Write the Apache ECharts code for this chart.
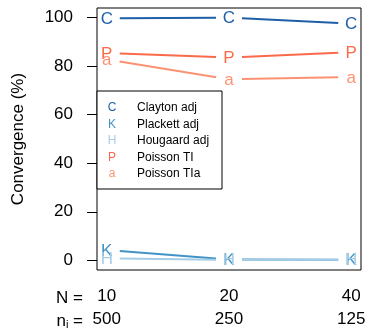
<!DOCTYPE html>
<html>
<head>
<meta charset="utf-8">
<script src="https://cdn.jsdelivr.net/npm/echarts@6/dist/echarts.min.js"></script>
<style>
  html, body { margin: 0; padding: 0; background: #fff; }
  #chart { width: 369px; height: 328px; }
</style>
</head>
<body>
<div id="chart"></div>
<script>
// x positions (equally spaced designs) and their tick labels
const xIdx = [1, 2, 3];
const nLabels = ["10", "20", "40"];
const niLabels = ["500", "250", "125"];
const yTicks = [0, 20, 40, 60, 80, 100];

// convergence (%) per method
const clayton = [99.8, 100, 97.6];
const plackett = [4.2, 0.3, 0.2];
const hougaard = [0.8, 0.2, 0.2];
const poissonTI = [85.4, 83.6, 85.8];
const poissonTIa = [82.8, 74.6, 75.6];

const FONT = "Liberation Sans, Arial, sans-serif";

const methods = [
  { name: "Clayton adj", letter: "C", color: "#1f5fa6", values: clayton },
  { name: "Plackett adj", letter: "K", color: "#4292c6", values: plackett },
  { name: "Hougaard adj", letter: "H", color: "#a6cde6", values: hougaard },
  { name: "Poisson TI", letter: "P", color: "#fb6a4a", values: poissonTI },
  { name: "Poisson TIa", letter: "a", color: "#fc9272", values: poissonTIa },
];

// R type="b": letters at points, lines with a gap around each letter
function makeRender(m) {
  return function (params, api) {
    const i = params.dataIndex;
    const p = api.coord([api.value(0), api.value(1)]);
    const children = [];
    if (i < m.values.length - 1) {
      const q = api.coord([xIdx[i + 1], m.values[i + 1]]);
      const dx = q[0] - p[0], dy = q[1] - p[1];
      const L = Math.hypot(dx, dy), g = 13;
      children.push({
        type: "line",
        shape: {
          x1: p[0] + dx / L * g, y1: p[1] + dy / L * g,
          x2: q[0] - dx / L * g, y2: q[1] - dy / L * g,
        },
        style: { stroke: m.color, lineWidth: 2 },
      });
    }
    children.push({
      type: "text",
      style: {
        text: m.letter, x: p[0], y: p[1] + 1,
        fill: m.color, font: "17px " + FONT,
        align: "center", verticalAlign: "middle",
      },
    });
    return { type: "group", children };
  };
}

const chart = echarts.init(document.getElementById("chart"));

// legend box drawn by hand to mimic R's legend()
const legendItems = [];
const legX = 97, legY = 91, rowH = 16.4;
legendItems.push({
  type: "rect",
  shape: { x: legX, y: legY, width: 125, height: 98 },
  style: { fill: "#fff", stroke: "#000", lineWidth: 1 },
  z: 100,
});
methods.forEach((m, k) => {
  const cy = legY + 17 + k * rowH;
  legendItems.push({
    type: "text", z: 101,
    style: { text: m.letter, x: 112, y: cy, fill: m.color, font: "12px " + FONT, align: "center", verticalAlign: "middle" },
  });
  legendItems.push({
    type: "text", z: 101,
    style: { text: m.name, x: 137, y: cy, fill: "#000", font: "12px " + FONT, align: "left", verticalAlign: "middle" },
  });
});

chart.setOption({
  animation: false,
  grid: {
    left: 97, right: 8, top: 8, bottom: 57,
    show: true, borderColor: "#000", borderWidth: 1, backgroundColor: "transparent",
  },
  xAxis: {
    type: "value", min: 0.92, max: 3.08,
    axisLine: { show: false }, axisTick: { show: false }, splitLine: { show: false },
    axisLabel: {
      customValues: xIdx,
      margin: 15,
      formatter: (v) => {
        const k = xIdx.indexOf(Math.round(v));
        return "{a|" + nLabels[k] + "}\n{a|" + niLabels[k] + "}";
      },
      rich: { a: { fontSize: 17, fontFamily: FONT, color: "#000", lineHeight: 23 } },
    },
  },
  yAxis: {
    type: "value", min: -4, max: 104,
    name: "Convergence (%)", nameLocation: "middle", nameGap: 70,
    nameTextStyle: { fontSize: 17, fontFamily: FONT, color: "#000" },
    axisLine: { show: false },
    splitLine: { show: false },
    axisTick: { show: true, customValues: yTicks, length: 10, lineStyle: { color: "#000" } },
    axisLabel: { customValues: yTicks, margin: 24, fontSize: 17, fontFamily: FONT, color: "#000" },
  },
  graphic: [
    {
      type: "text",
      style: { text: "N =", x: 83, y: 298, fill: "#000", font: "17px " + FONT, align: "right", verticalAlign: "middle" },
    },
    {
      type: "text",
      style: {
        text: "{n|n}{s|i}{n| =}", x: 83, y: 321, align: "right", verticalAlign: "middle",
        rich: {
          n: { fontSize: 17, fontFamily: FONT, fill: "#000" },
          s: { fontSize: 11, fontFamily: FONT, fill: "#000", padding: [8, 0, 0, 0] },
        },
      },
    },
    ...legendItems,
  ],
  series: methods.map((m) => ({
    type: "custom",
    name: m.name,
    renderItem: makeRender(m),
    data: m.values.map((v, i) => [xIdx[i], v]),
    clip: false,
  })),
});
</script>
</body>
</html>
